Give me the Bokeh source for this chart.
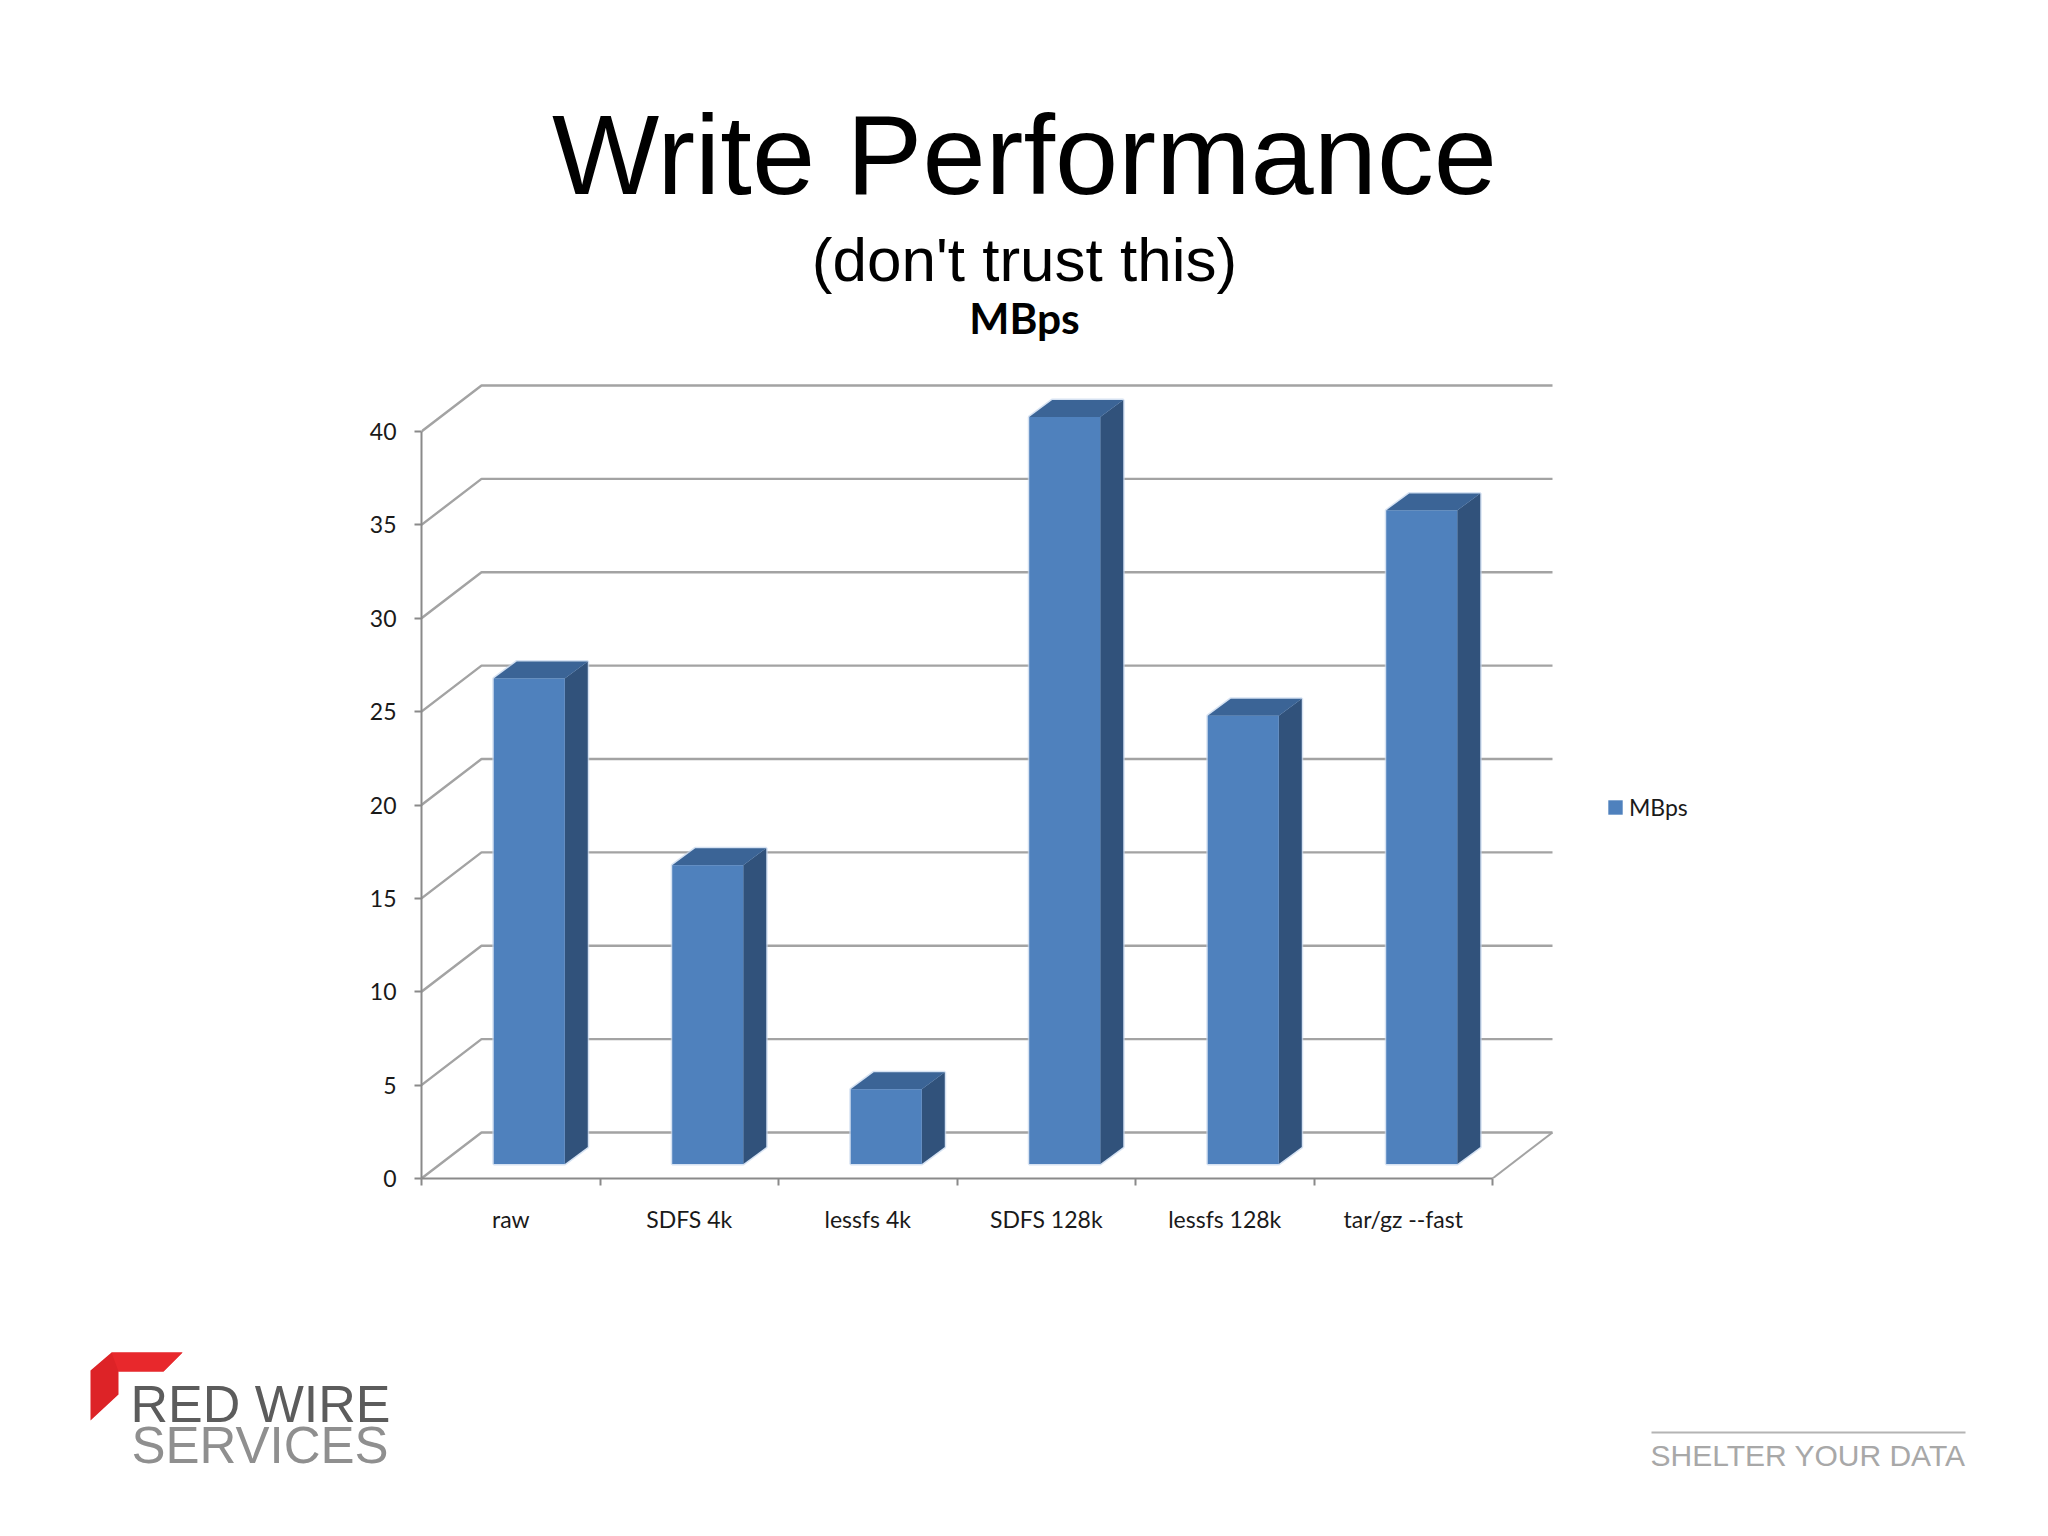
from bokeh.embed import file_html
from bokeh.layouts import column
from bokeh.resources import INLINE
from bokeh.plotting import figure
from bokeh.models import (Range1d, FixedTicker, Label, PolyAnnotation, Legend, LegendItem)

# ---- data ----
categories = ["raw", "SDFS 4k", "lessfs 4k", "SDFS 128k", "lessfs 128k", "tar/gz --fast"]
mbps = [26, 16, 4, 40, 24, 35]
y_ticks = [0, 5, 10, 15, 20, 25, 30, 35, 40]

# ---- layout (page pixels) ----
W, H = 2032, 1520
CHART_H = 1300
AX_L, AX_B = 421, 1178       # origin of the front plane
CAT_PX = 178.5               # px per category
VAL_PX = 18.675              # px per MBps
WALL_DX, WALL_DY = 60 / CAT_PX, 46 / VAL_PX     # depth of the chart box, data units
BAR_DX, BAR_DY = 23 / CAT_PX, 17 / VAL_PX       # depth of each bar
BAR_W = 71 / CAT_PX
BAR_SHIFT = 18.5 / CAT_PX    # bars stand a little way back from the front plane
BAR_BASE = 14.5 / VAL_PX
FRONT, TOP, SIDE, HALO = "#4f81bd", "#3b6496", "#31527b", "#c4d6ec"
GRID = "#a3a3a3"
AXIS = "#8a8a8a"

n = len(categories)
wall_x = n + WALL_DX

p = figure(width=W, height=CHART_H, output_backend="svg", toolbar_location=None,
           x_range=Range1d(0, (W - AX_L) / CAT_PX), y_range=Range1d(0, AX_B / VAL_PX),
           min_border_left=AX_L, min_border_top=0, min_border_right=0,
           min_border_bottom=CHART_H - AX_B, frame_align=False,
           outline_line_color=None, background_fill_color="#ffffff",
           border_fill_color="#ffffff")
p.grid.visible = False

# ---- axes ----
xa, ya = p.xaxis[0], p.yaxis[0]
xa.ticker = FixedTicker(ticks=[i + 0.5 for i in range(n)], minor_ticks=list(range(n + 1)))
xa.major_label_overrides = {i + 0.5: c for i, c in enumerate(categories)}
xa.bounds = (0, n)
xa.minor_tick_in, xa.minor_tick_out = 0, 7
xa.major_label_standoff = 19
ya.ticker = FixedTicker(ticks=y_ticks)
ya.bounds = (0, 40)
ya.major_tick_in, ya.major_tick_out = 0, 7
ya.major_label_standoff = 18
for a in (xa, ya):
    a.axis_line_color = AXIS
    a.axis_line_width = 2
    a.major_tick_line_width = 2
    a.minor_tick_line_width = 2
    a.major_tick_line_color = AXIS if a is ya else None
    a.minor_tick_line_color = AXIS if a is xa else None
    a.major_label_text_font = "Lato"
    a.major_label_text_font_size = "23px"
    a.major_label_text_color = "#1a1a1a"

# ---- walls ----
p.multi_line(xs=[[0, WALL_DX, wall_x] for _ in y_ticks],
             ys=[[v, v + WALL_DY, v + WALL_DY] for v in y_ticks],
             line_color=GRID, line_width=2.4)
p.line([n, wall_x], [0, WALL_DY], line_color=GRID, line_width=2)

# ---- bars ----
left = [i + 0.5 + BAR_SHIFT - BAR_W / 2 for i in range(n)]
right = [l + BAR_W for l in left]
top = [BAR_BASE + v for v in mbps]
p.patches(xs=[[l, r, r + BAR_DX, r + BAR_DX, l + BAR_DX, l] for l, r in zip(left, right)],
          ys=[[BAR_BASE, BAR_BASE, BAR_BASE + BAR_DY, t + BAR_DY, t + BAR_DY, t] for t in top],
          fill_color=HALO, line_color=HALO, line_width=3, line_alpha=0.7)
p.patches(xs=[[r, r + BAR_DX, r + BAR_DX, r] for r in right],
          ys=[[BAR_BASE, BAR_BASE + BAR_DY, t + BAR_DY, t] for t in top],
          fill_color=SIDE, line_color=None)
p.patches(xs=[[l, l + BAR_DX, r + BAR_DX, r] for l, r in zip(left, right)],
          ys=[[t, t + BAR_DY, t + BAR_DY, t] for t in top],
          fill_color=TOP, line_color=None)
front = p.quad(left=left, right=right, bottom=BAR_BASE, top=top,
               fill_color=FRONT, line_color=None)

# ---- legend ----
legend = Legend(items=[LegendItem(label="MBps", renderers=[front])],
                location=(1185, 357), border_line_color=None, background_fill_alpha=0,
                padding=0, margin=0, glyph_width=18, glyph_height=18,
                label_text_font="Lato", label_text_font_size="23px",
                label_text_color="#1a1a1a", label_standoff=5)
p.add_layout(legend, "center")


# ---- page titles, placed by page pixels inside the chart's frame ----
def title(s, px, py, size, font="Liberation Sans", style="normal"):
    p.add_layout(Label(x=(px - AX_L) / CAT_PX, y=(AX_B - py) / VAL_PX, text=s, text_font=font,
                       text_font_size=f"{size}px", text_color="#000000", text_align="center",
                       text_baseline="middle", text_font_style=style))


title("Write Performance", 1024, 153.5, 113.6)
title("(don't trust this)", 1024, 259, 62)
title("MBps", 1024, 317, 42.5, font="Lato", style="bold")

# ---- footer strip with the logo and strapline ----
F_H = H - CHART_H
f = figure(width=W, height=F_H, output_backend="svg", toolbar_location=None,
           x_range=Range1d(0, W), y_range=Range1d(H, CHART_H), frame_align=False,
           min_border_left=0, min_border_right=0, min_border_top=0, min_border_bottom=0,
           outline_line_color=None, border_fill_color="#ffffff", background_fill_color="#ffffff")
f.axis.visible = False
f.grid.visible = False


def foot(s, px, py, size, color):
    f.add_layout(Label(x=px, y=py, text=s, text_font="Liberation Sans",
                       text_font_size=f"{size}px", text_color=color, text_align="left",
                       text_baseline="middle"))


foot("RED WIRE", 130, 1403, 52, "#5c5c5c")
foot("SERVICES", 131, 1445, 51, "#8f8f8f")
foot("SHELTER YOUR DATA", 1650, 1455, 30, "#a8a8a8")


def poly(pts, color):
    f.add_layout(PolyAnnotation(xs=[a for a, _ in pts], ys=[b for _, b in pts],
                                fill_color=color, fill_alpha=1, line_color=None))


poly([(90, 1370), (111, 1352), (182, 1352), (163, 1371), (118, 1371), (118, 1394), (90, 1420)], "#dd2327")
poly([(111, 1352), (182, 1352), (163, 1371), (118, 1371)], "#e8282c")
poly([(1651, 1431), (1965, 1431), (1965, 1433), (1651, 1433)], "#b4b4b4")

open("out.html", "w").write(file_html(column(p, f, spacing=0), INLINE))
